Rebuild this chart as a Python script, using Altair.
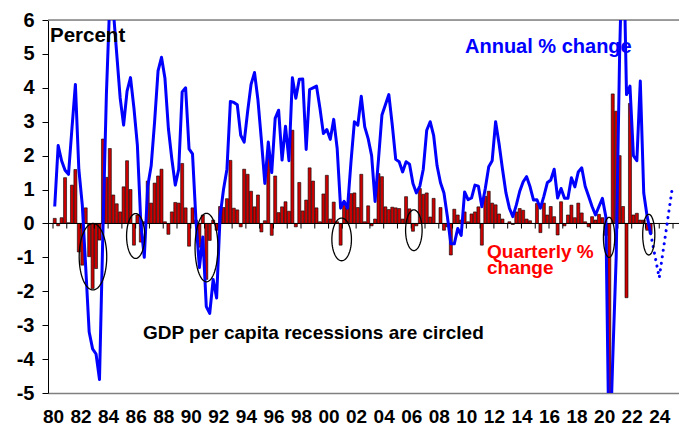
import altair as alt
import pandas as pd
import numpy as np

FONT = "Liberation Sans, Arial, sans-serif"

# Quarterly % change in real GDP per capita, 1980Q1 .. 2023Q2
quarterly_pct = [
    0.15, -0.07, 0.17, 1.35,     # 1980
    0.02, 1.13, 1.59, -0.84,     # 1981
    -1.23, 0.46, -0.98, -1.92,   # 1982
    -1.33, -0.49, 2.49, 1.36,    # 1983
    2.21, 0.84, 0.58, 0.34,      # 1984
    1.08, 1.85, 1.0, -0.64,      # 1985
    0.25, -0.55, 0.05, 1.25,     # 1986
    0.6, 1.19, 1.4, 1.6,         # 1987
    0.05, -0.32, 0.34, 0.62,     # 1988
    0.6, 1.77, 0.46, -0.67,      # 1989
    0.46, 0.1, -0.7, 0.25,       # 1990
    -1.65, -0.5, 0.1, -0.2,      # 1991
    0.5, 0.47, 0.73, 1.86,       # 1992
    0.45, 0.4, -0.1, 1.6,        # 1993
    1.45, 0.95, 0.49, 0.84,      # 1994
    -0.25, 0.08, 1.94, -0.35,    # 1995
    1.4, 0.32, 0.49, 0.64,       # 1996
    0.36, 2.75, -0.1, 1.21,      # 1997
    0.37, 0.69, 1.64, 1.25,      # 1998
    0.46, 0.05, 0.87, 1.42,      # 1999
    0.13, 0.63, 0.05, -0.64,     # 2000
    0.64, 0.46, 0.88, 0.9,       # 2001
    0.47, 1.45, 0.05, 0.52,      # 2002
    -0.07, 0.13, 1.47, 1.38,     # 2003
    0.49, 0.41, 0.48, 0.46,      # 2004
    0.44, 0.13, 0.79, 0.43,      # 2005
    -0.23, -0.07, 1.03, 0.86,    # 2006
    0.9, 0.19, 0.74, 0.0,        # 2007
    0.47, -0.2, -0.1, -0.93,     # 2008
    0.42, 0.25, 0.1, 0.34,       # 2009
    0.05, 0.28, 0.34, 0.49,      # 2010
    -0.64, 0.8, 0.95, 0.6,       # 2011
    0.55, 0.28, 0.13, 0.0,       # 2012
    0.05, -0.03, 0.34, 0.44,     # 2013
    0.39, 0.13, 0.08, 0.0,       # 2014
    0.59, -0.27, 0.6, 0.25,      # 2015
    0.5, 0.2, -0.34, 0.64,       # 2016
    -0.07, 0.25, 0.54, 0.17,     # 2017
    0.6, 0.31, 0.05, -0.1,       # 2018
    0.2, 0.1, 0.27, 0.17,        # 2019
    -0.35, -7.0, 3.82, 3.31,     # 2020
    2.0, 0.5, -2.19, 3.54,       # 2021
    0.25, 0.3, 0.1, 0.1,         # 2022
    -0.2, -0.3,                  # 2023
]

# Annual % change (through the year), 1980Q1 .. 2023Q2
annual_pct = [
    0.5, 2.3, 1.85, 1.57,        # 1980
    1.45, 2.8, 4.1, 1.6,         # 1981
    0.55, -1.3, -3.2, -3.7,      # 1982
    -3.85, -4.6, -0.2, 3.8,      # 1983
    6.6, 6.3, 5.0, 3.7,          # 1984
    2.9, 3.9, 4.3, 3.4,          # 1985
    2.3, 0.0, -1.0, 1.1,         # 1986
    1.7, 3.0, 4.5, 4.9,          # 1987
    4.28, 2.8, 1.9, 1.13,        # 1988
    1.6, 3.88, 4.0, 2.2,         # 1989
    2.05, 0.1, -1.3, -0.4,       # 1990
    -2.45, -2.65, -1.65, -2.2,   # 1991
    0.2, 1.0, 1.6, 3.6,          # 1992
    3.57, 3.5, 2.6, 2.4,         # 1993
    3.3, 4.1, 4.45, 3.64,        # 1994
    2.46, 1.18, 2.4, 1.5,        # 1995
    3.1, 3.34, 1.87, 2.87,       # 1996
    1.85, 4.3, 3.69, 4.25,       # 1997
    4.26, 2.18, 3.95, 4.0,       # 1998
    4.05, 3.4, 2.65, 2.77,       # 1999
    2.48, 3.07, 2.21, 0.45,      # 2000
    0.65, 0.45, 1.8, 3.0,        # 2001
    2.9, 3.75, 2.85, 2.5,        # 2002
    2.0, 0.65, 1.9, 3.2,         # 2003
    3.5, 3.8, 2.9, 1.89,         # 2004
    1.82, 1.52, 1.82, 1.75,      # 2005
    1.18, 0.9, 1.1, 1.6,         # 2006
    2.75, 3.0, 2.6, 1.7,         # 2007
    1.2, 0.9, 0.2, -0.6,         # 2008
    -0.6, -0.15, -0.35, 0.93,    # 2009
    0.7, 0.75, 1.13, 1.1,        # 2010
    0.49, 1.03, 1.67, 1.85,      # 2011
    3.0, 2.35, 1.6, 0.9,         # 2012
    0.45, 0.2, 0.54, 0.95,       # 2013
    1.23, 1.38, 1.08, 0.69,      # 2014
    0.7, 0.45, 0.8, 1.2,         # 2015
    1.28, 1.6, 0.75, 1.03,       # 2016
    0.74, 0.74, 1.35, 1.08,      # 2017
    1.52, 1.64, 1.1, 0.8,        # 2018
    0.5, 0.25, 0.5, 0.74,        # 2019
    0.2, -7.3, -4.0, -1.0,       # 2020
    5.0, 9.0, 3.8, 4.05,         # 2021
    2.0, 1.85, 4.2, 0.9,         # 2022
    0.2, -0.3,                   # 2023
]

# Forecast (dotted)
forecast_year = [2023.375, 2024.0, 2024.95]
forecast_pct = [-0.3, -1.6, 1.05]

# Recession circles: centre (year, %), half width (years), half height (%)
circle_year = [1982.9, 1986.0, 1991.14, 2000.95, 2006.19, 2020.36, 2023.24]
circle_pct = [-0.98, -0.37, -0.71, -0.47, -0.2, -0.41, -0.33]
circle_rx = [1.0, 0.66, 0.83, 0.71, 0.6, 0.41, 0.44]
circle_ry = [0.98, 0.66, 1.01, 0.63, 0.6, 0.59, 0.6]

x_label_years = list(range(1980, 2025, 2))
tick_years = list(range(1980, 2026))
y_ticks = list(range(-5, 7))

W, H = 631, 373
X_DOMAIN = [1980, 1980 + W / 14.0]
Y_DOMAIN = [-5, 6]

qt = [1980 + (i + 0.5) / 4 for i in range(len(quarterly_pct))]
at = [1980 + (i + 0.5) / 4 for i in range(len(annual_pct))]
bars_df = pd.DataFrame({"t": qt, "v": quarterly_pct})
line_df = pd.DataFrame({"t": at, "v": annual_pct})
fc_df = pd.DataFrame({"t": forecast_year, "v": forecast_pct})

ell_rows = []
ang = np.linspace(0, 2 * np.pi, 73)
for k, (cx, cy, rx, ry) in enumerate(zip(circle_year, circle_pct, circle_rx, circle_ry)):
    for j, a in enumerate(ang):
        ell_rows.append({"id": k, "o": j, "t": cx + rx * np.cos(a), "v": cy + ry * np.sin(a)})
ell_df = pd.DataFrame(ell_rows)

xscale = alt.Scale(domain=X_DOMAIN, nice=False, zero=False)
yscale = alt.Scale(domain=Y_DOMAIN, nice=False, zero=False)

x_axis = alt.Axis(
    values=x_label_years, labelExpr="substring(toString(datum.value), 2, 4)",
    ticks=False, grid=False, title=None, domainColor="#808080", domainWidth=1.5,
    labelFont=FONT, labelFontSize=19, labelFontWeight="bold", labelColor="black",
    labelPadding=14, labelFlush=False, labelOverlap=False,
)
y_axis = alt.Axis(
    values=y_ticks, labelExpr="toString(datum.value)", grid=False, title=None,
    domainColor="black", domainWidth=1, tickColor="black", tickSize=6,
    labelFont=FONT, labelFontSize=20, labelFontWeight="bold", labelColor="black",
    labelPadding=8, labelFlush=False, labelOverlap=False, labelBound=False,
)

X = alt.X("t:Q", scale=xscale, axis=x_axis)
Y = alt.Y("v:Q", scale=yscale, axis=y_axis)

bars = alt.Chart(bars_df).mark_bar(
    size=3, color="#CC0000", stroke="black", strokeWidth=0.6, clip=True
).encode(x=X, y=Y, y2=alt.datum(0))

one = pd.DataFrame({"a": [0]})
zero_line = alt.Chart(one).mark_rule(color="black", strokeWidth=1).encode(
    y=alt.datum(0, scale=yscale, axis=y_axis)
)
top_line = alt.Chart(one).mark_rule(color="#808080", strokeWidth=1.5).encode(
    y=alt.datum(6, scale=yscale, axis=y_axis)
)
ticks = alt.Chart(pd.DataFrame({"yr": tick_years})).mark_rule(color="black", strokeWidth=1).encode(
    x=alt.X("yr:Q", scale=xscale, axis=x_axis),
    y=alt.datum(0, scale=yscale, axis=y_axis), y2=alt.datum(-0.15),
)

line = alt.Chart(line_df).mark_line(
    color="#0000FF", strokeWidth=3, clip=True, strokeJoin="round"
).encode(x=X, y=Y)

forecast = alt.Chart(fc_df).mark_line(
    color="#0000FF", strokeWidth=3, strokeDash=[0.1, 6.5], strokeCap="round"
).encode(x=X, y=Y)

ellipses = alt.Chart(ell_df).mark_line(color="black", strokeWidth=1.3).encode(
    x=X, y=Y, detail="id:N", order="o:Q"
)

labels_df = pd.DataFrame({
    "label": ["Percent", "Annual % change", "Quarterly %", "change",
              "GDP per capita recessions are circled"],
    "px": [2, 417, 439, 439, 95],
    "py": [22, 33, 238, 254, 319],
    "size": [20.5, 20, 19, 19, 19],
    "col": ["black", "#0000FF", "#FF0000", "#FF0000", "black"],
})
texts = alt.Chart(labels_df).mark_text(
    align="left", baseline="alphabetic", font=FONT, fontWeight="bold"
).encode(
    x=alt.X("px:Q", scale=None),
    y=alt.Y("py:Q", scale=None),
    text="label:N",
    size=alt.Size("size:Q", scale=None),
    color=alt.Color("col:N", scale=None),
)

chart = alt.layer(
    top_line, bars, zero_line, ticks, line, forecast, ellipses, texts
).properties(
    width=W, height=H,
    autosize=alt.AutoSizeParams(type="none"),
    padding={"left": 40, "top": 12, "right": 0, "bottom": 35},
).configure_view(stroke=None).configure_axis(labelOverlap=False).configure(background="white")

chart.save("out.html", embed_options={"renderer": "svg", "actions": False})
